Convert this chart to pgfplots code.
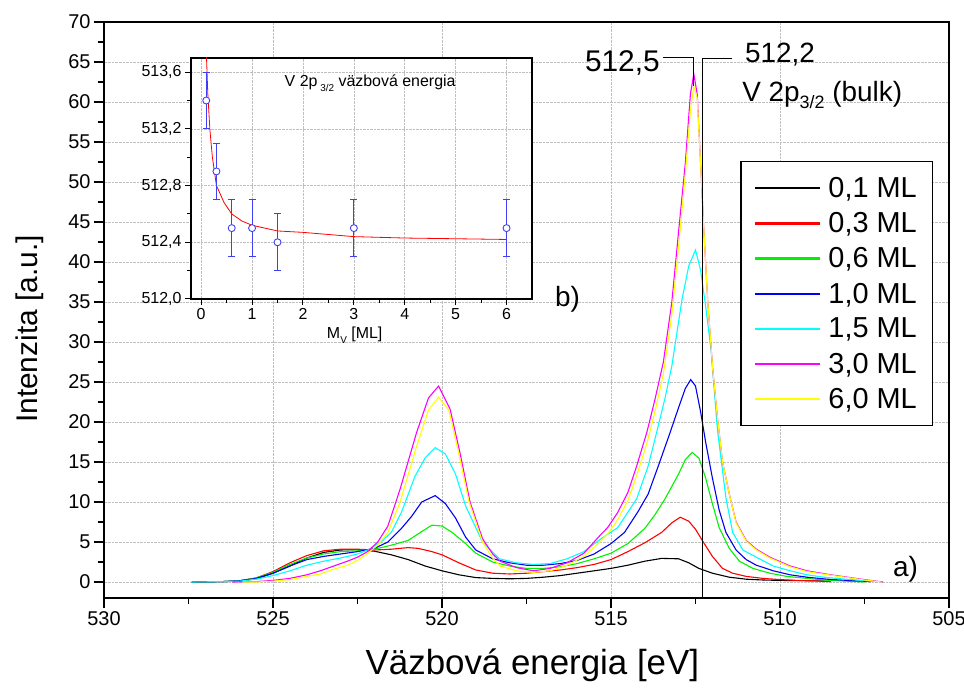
\documentclass[border=0pt]{standalone}
\usepackage{pgfplots}
\pgfplotsset{compat=1.18}
\usepackage{fontspec}
\setmainfont{Liberation Sans}
\definecolor{cgreen}{rgb}{0,0.95,0}
\definecolor{cblue}{rgb}{0,0,0.95}
\definecolor{ccyan}{rgb}{0,1,1}
\definecolor{cmag}{rgb}{1,0,1}
\definecolor{cyel}{rgb}{1,1,0}
\definecolor{pblue}{rgb}{0.25,0.25,0.95}
\begin{document}
\begin{tikzpicture}
\begin{axis}[
 scale only axis, width=845bp, height=576bp,
 x dir=reverse, xmin=505, xmax=530, ymin=-2, ymax=70,
 xtick={505,510,...,530}, ytick={0,5,...,70},
 minor x tick num=1, minor y tick num=1,
 tick pos=left, tick align=outside,
 major tick length=10bp, minor tick length=6bp,
 every tick/.style={black, line width=1.3bp},
 axis line style={line width=2bp},
 grid=major, major grid style={densely dotted, black!25, line width=0.7bp},
 tick label style={font=\fontsize{20}{20}\selectfont},
 /pgf/number format/assume math mode=true,
 /pgf/number format/1000 sep={},
 xlabel={Väzbová energia [eV]}, ylabel={Intenzita [a.u.]},
 xlabel style={font=\fontsize{35}{35}\selectfont, at={(axis description cs:0.507,-0.116)}, anchor=center},
 ylabel style={font=\fontsize{30}{30}\selectfont, at={(axis description cs:-0.0876,0.467)}, anchor=center},
 legend style={at={(rel axis cs:0.753,0.759)}, anchor=north west, font=\fontsize{29}{29}\selectfont,
   inner xsep=14bp, inner ysep=14bp, row sep=9.5bp, cells={anchor=west}, line width=1.3bp},
 legend image code/.code={\fill[#1, draw=none] (0bp,-1.1bp) rectangle (65bp,1.1bp); \path (71bp,0bp);},
 every axis plot/.append style={line width=1.1bp},
]
% 0,1 ML
\addplot[color=black] coordinates {
(527.4,0) (526.5,0.05) (526,0.1) (525.5,0.4) (525,1.1) (524.5,2.0) (524,3.0) (523.5,3.7) (523,4.0) (522.5,4.05)
(522,3.85) (521.5,3.4) (521,2.8) (520.5,2.0) (520,1.4) (519.5,0.9) (519,0.55) (518.5,0.45) (518,0.4) (517.5,0.45)
(517,0.6) (516.5,0.8) (516,1.1) (515.5,1.4) (515,1.7) (514.5,2.1) (514,2.6) (513.5,2.95) (513,2.9) (512.7,2.4)
(512.4,1.7) (512,1.1) (511.5,0.6) (511,0.35) (510.5,0.25) (510,0.2) (509,0.15) (508.5,0.1)};
\addlegendentry{0,1 ML}
% 0,3 ML
\addplot[color=red] coordinates {
(527.4,0) (526.5,0.05) (526,0.15) (525.5,0.5) (525,1.3) (524.5,2.4) (524,3.3) (523.5,3.9) (523,4.1) (522.5,4.1)
(522,4.0) (521.5,4.1) (521,4.3) (520.7,4.2) (520.3,3.8) (520,3.4) (519.5,2.4) (519,1.5) (518.5,1.1) (518,1.0)
(517.5,1.1) (517,1.3) (516.5,1.5) (516,1.8) (515.5,2.2) (515,2.8) (514.5,3.8) (514,4.9) (513.5,6.2) (513.2,7.4)
(512.95,8.1) (512.7,7.6) (512.5,6.6) (512.3,5.2) (512,3.2) (511.7,1.7) (511.4,1.1) (511,0.7) (510.5,0.45) (510,0.3)
(509.5,0.2) (509,0.15) (508.5,0.05)};
\addlegendentry{0,3 ML}
% 0,6 ML
\addplot[color=cgreen] coordinates {
(527.4,0) (526.5,0.05) (526,0.15) (525.5,0.5) (525,1.2) (524.5,2.2) (524,3.0) (523.5,3.5) (523,3.8) (522.5,3.9)
(522,4.1) (521.5,4.6) (521,5.2) (520.6,6.3) (520.3,7.1) (520,7.0) (519.7,6.2) (519.3,4.8) (519,3.6) (518.5,2.5)
(518,2.0) (517.5,1.7) (517,1.7) (516.5,1.9) (516,2.3) (515.5,2.9) (515,3.6) (514.5,4.8) (514,6.7) (513.7,8.4)
(513.4,10.4) (513,13.5) (512.8,15.3) (512.6,16.2) (512.4,15.5) (512.2,13.0) (512,9.8) (511.8,6.8) (511.5,4.2) (511.2,2.6)
(510.8,1.7) (510.3,1.1) (509.8,0.7) (509.2,0.45) (508.7,0.25) (508,0.1) (507.5,0)};
\addlegendentry{0,6 ML}
% 1,0 ML
\addplot[color=cblue] coordinates {
(527.4,0) (526.5,0.05) (526,0.15) (525.5,0.45) (525,1.1) (524.5,2.0) (524,2.8) (523.5,3.2) (523,3.5) (522.5,3.8)
(522,4.2) (521.6,5.0) (521.2,6.7) (520.9,8.2) (520.6,10.0) (520.2,10.8) (519.9,9.8) (519.6,8.0) (519.3,5.6) (519,4.0)
(518.5,2.9) (518,2.4) (517.5,2.1) (517,2.1) (516.5,2.3) (516,2.7) (515.5,3.5) (515,4.8) (514.6,6.2) (514.2,8.8)
(513.9,11.0) (513.6,14.5) (513.25,18.7) (513,21.8) (512.8,24.2) (512.64,25.3) (512.5,24.5) (512.35,21.3) (512.2,17.5) (512,13.0)
(511.8,9.0) (511.6,6.2) (511.3,4.0) (511,2.8) (510.7,2.1) (510.2,1.4) (509.7,0.9) (509.2,0.6) (508.6,0.35) (508,0.2) (507.3,0.05)};
\addlegendentry{1,0 ML}
% 1,5 ML
\addplot[color=ccyan] coordinates {
(527.4,0) (526.5,0.05) (526,0.1) (525.5,0.35) (525,0.8) (524.5,1.4) (524,2.1) (523.5,2.6) (523,3.0) (522.5,3.5)
(522.2,4.0) (521.8,5.0) (521.5,6.2) (521.2,8.7) (520.8,13.2) (520.5,15.5) (520.2,16.8) (519.9,16.0) (519.6,13.5) (519.3,9.5)
(519,6.8) (518.8,5.0) (518.3,2.9) (517.8,2.4) (517.3,2.2) (516.8,2.3) (516.3,2.9) (515.8,3.8) (515.3,5.4) (514.8,6.8)
(514.24,10.4) (513.9,14.5) (513.65,18.7) (513.4,23.0) (513.2,27.0) (512.9,35.3) (512.7,39.5) (512.5,41.5) (512.35,39.0) (512.2,34.5)
(512.04,29.0) (511.85,19.0) (511.6,10.5) (511.4,6.2) (511.1,4.0) (510.7,3.1) (510.2,2.0) (509.7,1.4) (509.2,0.9) (508.7,0.6)
(508.2,0.4) (507.6,0.2) (507.1,0.05)};
\addlegendentry{1,5 ML}
% 3,0 ML
\addplot[color=cmag] coordinates {
(526.2,0) (525.5,0.05) (525,0.2) (524.5,0.45) (524,0.9) (523.6,1.4) (523.2,2.0) (522.8,2.6) (522.5,3.1) (522.2,3.8)
(521.9,5.0) (521.6,7.0) (521.24,11.6) (520.75,18.7) (520.4,23.0) (520.1,24.5) (519.76,21.6) (519.47,16.2) (519.17,10.0) (518.8,5.4)
(518.5,3.5) (518.28,2.6) (517.8,1.8) (517.3,1.4) (516.8,1.7) (516.3,2.4) (515.8,3.6) (515.33,5.8) (515.1,6.8) (514.8,8.7)
(514.5,11.2) (514.24,14.5) (513.94,18.7) (513.7,22.8) (513.45,27.5) (513.2,35.0) (513.0,43.8) (512.8,52.4) (512.65,61.0) (512.55,63.5)
(512.45,61.0) (512.35,52.4) (512.25,43.8) (512.14,35.2) (511.99,26.6) (511.85,20.5) (511.7,15.0) (511.5,11.0) (511.3,7.5) (511,5.2)
(510.7,4.1) (510.3,3.1) (509.7,2.0) (509.2,1.4) (508.5,0.9) (508,0.6) (507.5,0.3) (506.95,0)};
\addlegendentry{3,0 ML}
% 6,0 ML
\addplot[color=cyel] coordinates {
(525.9,0) (525.5,0) (525,0.1) (524.5,0.3) (524,0.7) (523.6,1.0) (523.2,1.6) (522.8,2.1) (522.5,2.7) (522.2,3.6)
(521.9,4.6) (521.6,6.2) (521.24,10.0) (520.75,17.0) (520.4,21.5) (520.1,23.1) (519.8,21.5) (519.5,16.0) (519.2,10.0) (518.8,5.0)
(518.5,3.0) (518.28,2.0) (517.8,1.4) (517.3,1.2) (516.8,1.4) (516.3,2.1) (515.8,3.2) (515.33,5.0) (515.1,6.0) (514.8,7.8)
(514.5,10.2) (514.24,13.3) (513.94,17.3) (513.7,21.3) (513.45,26.0) (513.2,33.5) (513.0,42.0) (512.8,51.0) (512.65,59.0) (512.55,62.0)
(512.45,60.5) (512.35,52.4) (512.25,43.8) (512.14,35.2) (511.99,26.6) (511.85,20.5) (511.7,15.0) (511.5,11.0) (511.3,7.4) (511,5.1)
(510.7,4.0) (510.3,3.0) (509.7,1.9) (509.2,1.3) (508.5,0.85) (508,0.55) (507.5,0.25) (507,0)};
\addlegendentry{6,0 ML}
% annotations
\draw[line width=1.2bp] (axis cs:511.42,65.4) -- (axis cs:512.3,65.4) -- (axis cs:512.3,-2);
\draw[line width=1.2bp] (axis cs:513.46,65.6) -- (axis cs:512.57,65.6) -- (axis cs:512.57,62.0);
\node[anchor=east, font=\fontsize{30}{30}\selectfont, inner sep=0pt] at (axis cs:513.55,64.9) {512,5};
\node[anchor=west, font=\fontsize{28}{28}\selectfont, inner sep=0pt] at (axis cs:511.04,65.9) {512,2};
\node[anchor=west, font=\fontsize{28}{28}\selectfont, inner sep=0pt] at (axis cs:511.12,60.9) {V 2p\raisebox{-0.45ex}{\fontsize{18}{18}\selectfont 3/2} (bulk)};
\node[anchor=west, font=\fontsize{28}{28}\selectfont, inner sep=0pt] at (axis cs:516.66,35.3) {b)};
\node[anchor=west, font=\fontsize{28}{28}\selectfont, inner sep=0pt] at (axis cs:506.66,1.6) {a)};
\end{axis}
\begin{axis}[
 at={(87bp,299bp)}, anchor=south west,
 scale only axis, width=341bp, height=241bp,
 xmin=-0.2, xmax=6.5, ymin=512.0, ymax=513.7,
 xtick={0,1,2,3,4,5,6}, ytick={512.0,512.4,512.8,513.2,513.6},
 minor x tick num=1, minor y tick num=1,
 tick pos=left, tick align=outside,
 major tick length=6bp, minor tick length=4bp,
 every tick/.style={black, line width=1bp},
 axis line style={line width=1.5bp},
 grid=major, major grid style={densely dotted, black!25, line width=0.6bp},
 axis background/.style={fill=white},
 tick label style={font=\fontsize{16}{16}\selectfont},
 /pgf/number format/assume math mode=true,
 yticklabel style={/pgf/number format/.cd, fixed, fixed zerofill, precision=1, use comma, 1000 sep={}},
 xlabel={M\raisebox{-0.5ex}{\fontsize{10}{10}\selectfont V} [ML]},
 xlabel style={font=\fontsize{16}{16}\selectfont, at={(axis description cs:0.48,-0.15)}, anchor=center},
]
\addplot[red, line width=0.8bp] coordinates {
(0.1,513.75) (0.13,513.45) (0.17,513.2) (0.22,513.0) (0.3,512.8) (0.45,512.68) (0.6,512.6) (0.8,512.55) (1.0,512.52)
(1.5,512.48) (2,512.47) (3,512.44) (4,512.43) (5,512.425) (6,512.42)};
\addplot[pblue, only marks, mark=*, mark size=3.5bp, mark options={fill=white, draw=pblue, line width=0.9bp},
 error bars/.cd, y dir=both, y explicit, error bar style={line width=1bp, pblue},
 error mark options={rotate=90, mark size=3.5bp, line width=1bp, pblue}]
 table[x=x, y=y, y error=e] {
x y e
0.1 513.4 0.2
0.3 512.9 0.2
0.6 512.5 0.2
1.0 512.5 0.2
1.5 512.4 0.2
3.0 512.5 0.2
6.0 512.5 0.2
};
\node[font=\fontsize{16}{16}\selectfont, anchor=center] at (axis cs:3.32,513.52) {V 2p\raisebox{-0.6ex}{\fontsize{10}{10}\selectfont\ 3/2} väzbová energia};
\end{axis}
\pgfresetboundingbox
\path[use as bounding box] (-104bp,-90bp) rectangle (860bp,598bp);
\end{tikzpicture}
\end{document}
